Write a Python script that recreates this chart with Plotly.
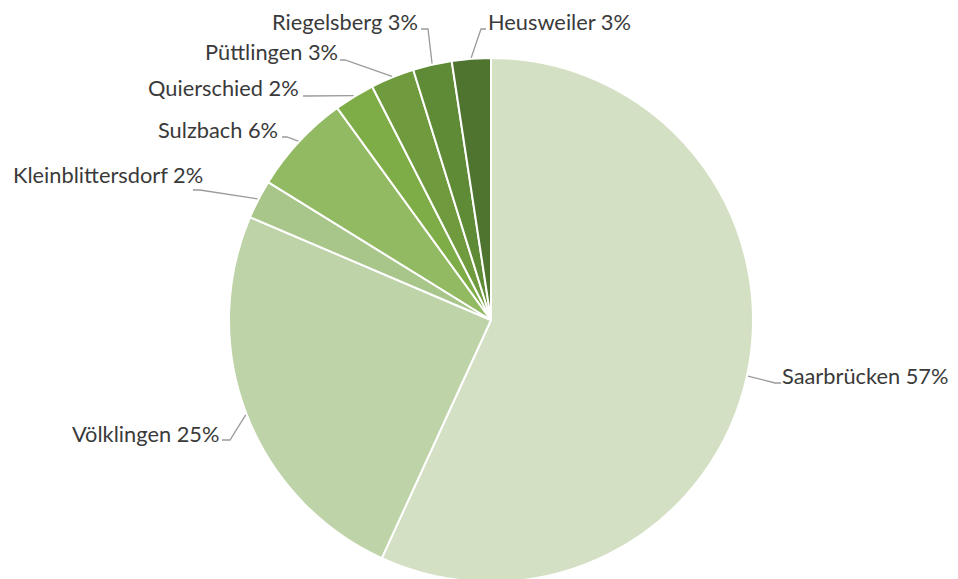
import math
import plotly.graph_objects as go

# ---- data ----
municipalities = ["Saarbrücken", "Völklingen", "Kleinblittersdorf", "Sulzbach",
                  "Quierschied", "Püttlingen", "Riegelsberg", "Heusweiler"]
shares = [56.9, 24.6, 2.4, 6.2, 2.5, 2.7, 2.4, 2.4]
share_labels = ["57%", "25%", "2%", "6%", "2%", "3%", "3%", "3%"]
colors = ["#d3e0c3", "#bed3a7", "#a8c68a", "#92ba62", "#7eac46", "#6f9a3e", "#5f8a36", "#4f742f"]

# ---- layout constants (screen pixels) ----
W, H = 958, 579
OFF = 8  # page body margin offset
PIE_CX, PIE_CY, PIE_R = 491, 320, 262
# label elbow point, end of horizontal stub, text anchor (x, y), side
label_layout = [
    ((775, 383), (781, 383), (781, 375), "left"),
    ((230, 440), (222, 440), (220, 433), "right"),
    ((200, 190), (193, 190), (204, 174), "right"),
    ((287, 137), (282, 137), (279, 129), "right"),
    ((306, 96), (303, 96), (300, 88), "right"),
    ((345, 60), (340, 60), (339, 51), "right"),
    ((428, 29), (421, 29), (419, 21), "right"),
    ((481, 29), (486, 29), (487, 21), "left"),
]

def px2paper(x, y):
    return (x - OFF) / W, 1 - (y - OFF) / H

# pie domain from desired centre / radius
fcx, fcy = PIE_CX - OFF, PIE_CY - OFF
dom_x = [(fcx - PIE_R - 40) / W, (fcx + PIE_R + 40) / W]
dom_y = [(H - fcy - PIE_R) / H, (H - fcy + PIE_R) / H]

fig = go.Figure()
fig.add_trace(go.Pie(
    labels=municipalities, values=shares, sort=False, direction="clockwise",
    rotation=0, textinfo="none", hoverinfo="label+percent",
    marker=dict(colors=colors, line=dict(color="white", width=2)),
    domain=dict(x=dom_x, y=dom_y), showlegend=False,
))

total = sum(shares)
cum = 0.0
shapes = []
annotations = []
for name, v, lab, (elbow, end, txt, side) in zip(municipalities, shares, share_labels, label_layout):
    mid = (cum + v / 2) / total * 2 * math.pi
    cum += v
    sx = PIE_CX + (PIE_R + 1) * math.sin(mid)
    sy = PIE_CY - (PIE_R + 1) * math.cos(mid)
    pts = [px2paper(sx, sy), px2paper(*elbow), px2paper(*end)]
    path = "M {} {} L {} {} L {} {}".format(pts[0][0], pts[0][1], pts[1][0], pts[1][1], pts[2][0], pts[2][1])
    shapes.append(dict(type="path", xref="paper", yref="paper", path=path,
                       line=dict(color="#9b9b9b", width=1.3)))
    tx, ty = px2paper(*txt)
    annotations.append(dict(x=tx, y=ty, xref="paper", yref="paper", text=f"{name} {lab}",
                            showarrow=False, xanchor=side, yanchor="middle", borderpad=0,
                            font=dict(family="Lato", size=21.8, color="#3a3a3a")))

fig.update_layout(
    width=W, height=H, margin=dict(l=0, r=0, t=0, b=0),
    paper_bgcolor="white", plot_bgcolor="white",
    shapes=shapes, annotations=annotations,
)
fig.write_html("out.html")
